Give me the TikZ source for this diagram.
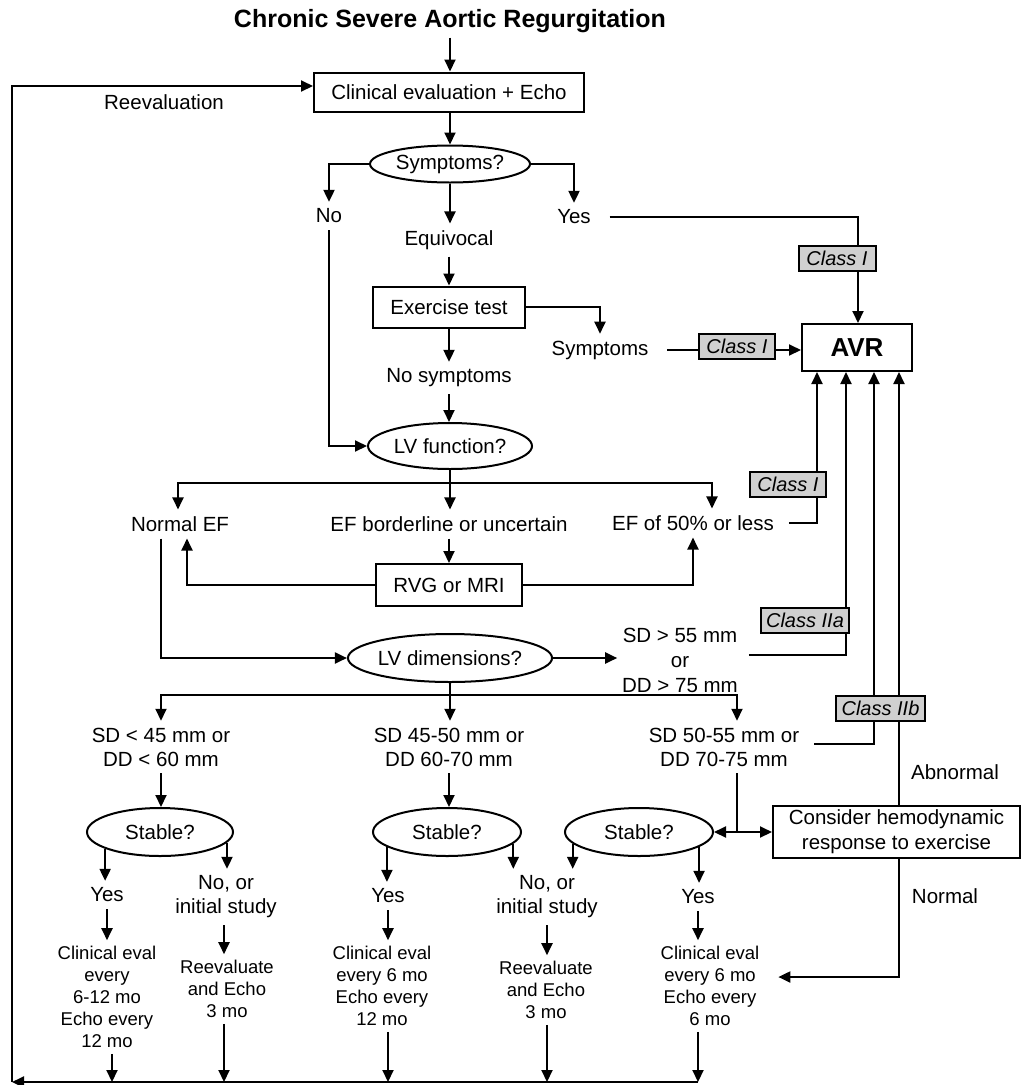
\documentclass[tikz,border=0pt]{standalone}
\usepackage{fontspec}
\setmainfont{Liberation Sans}
\usetikzlibrary{arrows.meta,shapes.geometric,calc}
\definecolor{clsgray}{RGB}{208,208,208}
\begin{document}
\begin{tikzpicture}[x=1pt,y=-1pt,line width=2pt,
  arr/.style={-{Triangle[length=12pt,width=11pt]}},
  t/.style={font=\fontsize{20.5}{24}\selectfont,inner xsep=4pt,inner ysep=6pt,align=center},
  s/.style={font=\fontsize{18.5}{22}\selectfont,inner xsep=4pt,inner ysep=5pt,align=center},
  bx/.style={draw,line width=2pt,font=\fontsize{20.5}{25}\selectfont,inner sep=0pt,align=center},
  ell/.style={draw,ellipse,line width=2pt,font=\fontsize{20.5}{24}\selectfont,inner sep=0pt},
  cls/.style={draw,fill=clsgray,line width=2pt,font=\fontsize{20}{22}\selectfont\itshape,inner sep=0pt,minimum height=25pt}]
\useasboundingbox (0,0) rectangle (1022,1085);

% ---------- nodes ----------
\node[font=\fontsize{25}{29}\selectfont\bfseries,inner sep=4pt] (title) at (450,21) {Chronic Severe Aortic Regurgitation};
\node[bx,minimum width=270pt,minimum height=39pt] (ce) at (449,92) {Clinical evaluation + Echo};
\node[t] (reeval) at (164,102) {Reevaluation};
\node[ell,minimum width=160pt,minimum height=37pt] (sym) at (450,164) {Symptoms?};
\node[t] (no) at (329,216) {No};
\node[t] (equiv) at (449,240) {Equivocal};
\node[t] (yes) at (574,217) {Yes};
\node[bx,minimum width=152pt,minimum height=41pt] (ex) at (449,307) {Exercise test};
\node[t] (symp2) at (600,350) {Symptoms};
\node[t] (nosym) at (449,378) {No symptoms};
\node[bx,minimum width=110pt,minimum height=47pt,font=\fontsize{26}{30}\selectfont\bfseries] (avr) at (857,347.5) {AVR};
\node[ell,minimum width=164pt,minimum height=46pt] (lvf) at (450,446) {LV function?};
\node[t] (nef) at (180,524) {Normal EF};
\node[t] (efb) at (449,524) {EF borderline or uncertain};
\node[t] (ef50) at (693,523) {EF of 50\% or less};
\node[bx,minimum width=146pt,minimum height=42pt] (rvg) at (449,585) {RVG or MRI};
\node[ell,minimum width=178pt,minimum height=48pt] (lvd) at (450,658) {LV dimensions?};
\node[t,font=\fontsize{20.5}{25}\selectfont] (sd55) at (680,660) {SD {>} 55 mm\\or\\DD {>} 75 mm};
\node[t] (sd45) at (161,747) {SD {<} 45 mm or\\DD {<} 60 mm};
\node[t] (sd4550) at (449,747) {SD 45-50 mm or\\DD 60-70 mm};
\node[t] (sd5055) at (724,747) {SD 50-55 mm or\\DD 70-75 mm};
\node[ell,minimum width=146pt,minimum height=48pt] (st1) at (160,832) {Stable?};
\node[ell,minimum width=148pt,minimum height=48pt] (st2) at (447,832) {Stable?};
\node[ell,minimum width=148pt,minimum height=48pt] (st3) at (639,832) {Stable?};
\node[bx,minimum width=247pt,minimum height=52pt] (cons) at (896.5,832) {Consider hemodynamic\\response to exercise};
\node[t] (abn) at (955,772) {Abnormal};
\node[t] (nrm) at (945,896) {Normal};
\node[t] (yes1) at (107,895) {Yes};
\node[t] (no1) at (226,897) {No, or\\initial study};
\node[s] (ce1) at (107,997) {Clinical eval\\every\\6-12 mo\\Echo every\\12 mo};
\node[s] (re1) at (227,989) {Reevaluate\\and Echo\\3 mo};
\node[t] (yes2) at (388,896) {Yes};
\node[s] (ce2) at (382,986) {Clinical eval\\every 6 mo\\Echo every\\12 mo};
\node[t] (no2) at (547,897) {No, or\\initial study};
\node[s] (re2) at (546,990) {Reevaluate\\and Echo\\3 mo};
\node[t] (yes3) at (698,897) {Yes};
\node[s] (ce3) at (710,986) {Clinical eval\\every 6 mo\\Echo every\\6 mo};

\coordinate (bl) at (12,1082);
\coordinate (tl) at (12,86);
\coordinate (j1) at (450,483);
\coordinate (j2) at (450,695);
\coordinate (j3) at (737,832);

% ---------- connectors ----------
\draw[arr] (title.south) -- (title.south |- ce.north);
\draw[arr] (yes3.south |- bl) -- (bl);
\draw[arr] (bl) -- (tl) -- (tl -| ce.west);
\draw[arr] (sym.north |- ce.south) -- (sym.north);
\draw[arr] (sym.west) -| (no.north);
\draw[arr] (sym.south) -- (sym.south |- equiv.north);
\draw[arr] (sym.east) -| (yes.north);
\draw[arr] ([xshift=14pt]yes.east) -| ([xshift=1pt]avr.north);
\draw[arr] (equiv.south) -- (equiv.south |- ex.north);
\draw[arr] (ex.east) -| (symp2.north);
\draw[arr] ([xshift=14pt]symp2.east) -- (symp2.east -| avr.west);
\draw[arr] (ex.south) -- (ex.south |- nosym.north);
\draw[arr] (nosym.south) -- (nosym.south |- lvf.north);
\draw[arr] (no.south) |- (lvf.west);
\draw (lvf.south) -- (j1);
\draw[arr] (j1) -- (j1 |- efb.north);
\draw[arr] (j1) -| ([xshift=-2pt]nef.north);
\draw[arr] (j1) -| ([xshift=19pt]ef50.north);
\draw[arr] (efb.south) -- (efb.south |- rvg.north);
\draw[arr] (rvg.west) -| ([xshift=7pt]nef.south);
\draw[arr] (rvg.east) -| (ef50.south);
\draw[arr] ([xshift=10pt]ef50.east) -| ([xshift=-40pt]avr.south);
\draw[arr] ([xshift=-19pt]nef.south) |- (lvd.west);
\draw[arr] (lvd.east) -- (lvd.east -| sd55.west);
\draw[arr] ([yshift=5pt,xshift=6pt]sd55.east) -| ([xshift=-11pt]avr.south);
\draw (lvd.south) -- (j2);
\draw[arr] (j2) -- (j2 |- sd4550.north);
\draw[arr] (j2) -| (sd45.north);
\draw[arr] (j2) -| ([xshift=13pt]sd5055.north);
\draw[arr] (sd45.south) -- (sd45.south |- st1.north);
\draw[arr] (sd4550.south) -- (sd4550.south |- st2.north);
\draw ([xshift=13pt]sd5055.south) -- (j3);
\draw[arr] (j3) -- (st3.east);
\draw[arr] (j3) -- (cons.west);
\draw[arr] ([yshift=3pt,xshift=10pt]sd5055.east) -| ([xshift=17pt]avr.south);
\draw[arr] ([xshift=2.5pt]cons.north) -- ([xshift=42pt]avr.south);
\draw[arr] ([xshift=2.5pt]cons.south) |- ([xshift=14pt,yshift=9pt]ce3.east);
% stable branches
\draw[arr] (st1.-163) -- (st1.-163 |- yes1.north);
\draw[arr] (st1.-9) -- (st1.-9 |- no1.north);
\draw[arr] (st2.-166) -- (st2.-166 |- yes2.north);
\draw[arr] (st2.-10) -- (st2.-10 |- no2.north);
\draw[arr] (st3.-170) -- (st3.-170 |- no2.north);
\draw[arr] (st3.-14) -- (st3.-14 |- yes3.north);
\draw[arr] (yes1.south) -- (yes1.south |- ce1.north);
\draw[arr] ([xshift=-2pt]no1.south) -- ([xshift=-2pt]no1.south |- re1.north);
\draw[arr] (yes2.south) -- (yes2.south |- ce2.north);
\draw[arr] (no2.south) -- (no2.south |- re2.north);
\draw[arr] (yes3.south) -- (yes3.south |- ce3.north);
\draw[arr] ([xshift=5pt]ce1.south) -- ([xshift=5pt]ce1.south |- bl);
\draw[arr] ([xshift=-3pt]re1.south) -- ([xshift=-3pt]re1.south |- bl);
\draw[arr] (yes2.south |- ce2.south) -- (yes2.south |- bl);
\draw[arr] (no2.south |- re2.south) -- (no2.south |- bl);
\draw[arr] (yes3.south |- ce3.south) -- (yes3.south |- bl);

% ---------- class labels ----------
\node[cls,minimum width=77pt] (c1a) at (837,258.5) {Class I};
\node[cls,minimum width=76pt] (c1b) at (737,346) {Class I};
\node[cls,minimum width=76pt] (c1c) at (788,484) {Class I};
\node[cls,minimum width=88pt] (c2a) at (805,620) {Class IIa};
\node[cls,minimum width=89pt] (c2b) at (880.5,708) {Class IIb};
\end{tikzpicture}
\end{document}
